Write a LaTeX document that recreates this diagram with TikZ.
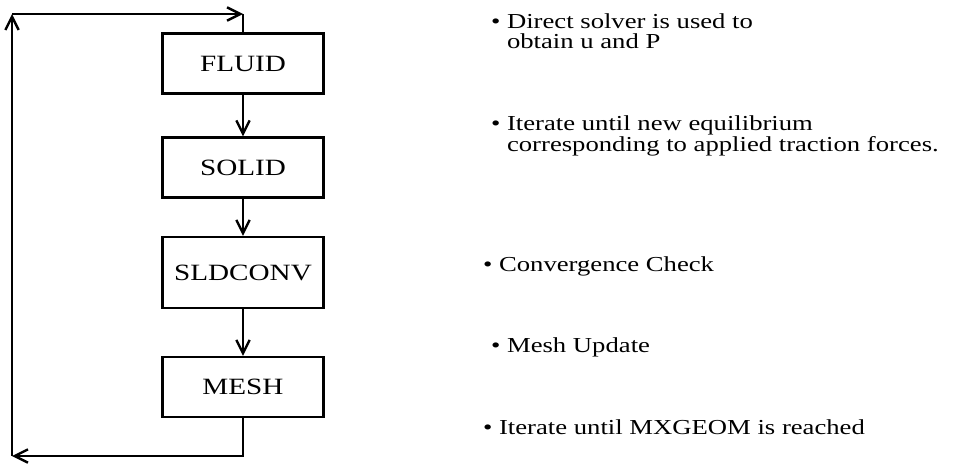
\documentclass[tikz,border=0pt]{standalone}
\usepackage{fontspec}
\setmainfont{Liberation Serif}[FakeStretch=1.25]
\usetikzlibrary{arrows.meta}

\begin{document}
\begin{tikzpicture}[x=0.75pt,y=-0.75pt,line width=1.6pt,
  module/.style={draw, minimum width=120.75pt, minimum height=45pt, font=\fontsize{17.5}{20}\selectfont},
  note/.style={anchor=base west, align=left, inner sep=0pt, font=\fontsize{16}{14.5}\selectfont},
  flow/.style={-{Straight Barb[length=10pt,width=10pt,line width=1.8pt]}}]
\useasboundingbox (0,0) rectangle (953,464);
% solver modules
\node[module] (fluid) at (243,63.5) {FLUID};
\node[module] (solid) at (243,167.5) {SOLID};
\node[module, minimum height=53.25pt] (sldconv) at (243,272.5) {SLDCONV};
\node[module] (mesh) at (243,387) {MESH};
% outer loop corners
\coordinate (tl) at (12,14);
\coordinate (tr) at (243,14);
\coordinate (bl) at (12,456);
\coordinate (br) at (243,456);
\path[draw,flow] (fluid) -- (solid);
\path[draw,flow] (solid) -- (sldconv);
\path[draw,flow] (sldconv) -- (mesh);
\path[draw,flow] (mesh.south) -- (br) -- (bl);
\path[draw,flow] (bl) -- (tl);
\path[draw,flow] (tl) -- (tr);
\path[draw] (tr) -- (fluid.north);
% comments on the right
\node[note] (n1) at (490,48) {\textbullet{} Direct solver is used to\\\phantom{\textbullet{} }obtain u and P};
\node[note] (n2) at (490,151) {\textbullet{} Iterate until new equilibrium\\\phantom{\textbullet{} }corresponding to applied traction forces.};
\node[note] (n3) at (482,271) {\textbullet{} Convergence Check};
\node[note] (n4) at (490,352) {\textbullet{} Mesh Update};
\node[note] (n5) at (482,434) {\textbullet{} Iterate until MXGEOM is reached};
\end{tikzpicture}
\end{document}
